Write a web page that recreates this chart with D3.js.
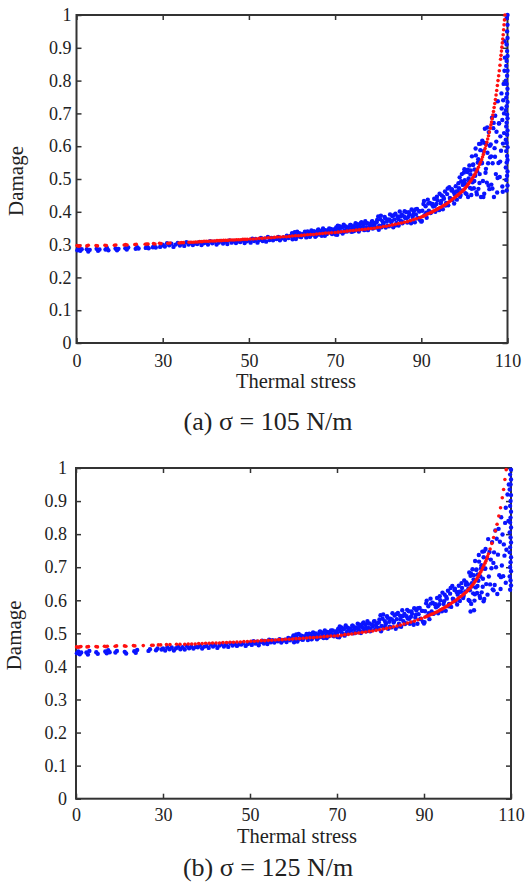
<!DOCTYPE html>
<html><head><meta charset="utf-8">
<script src="https://cdn.jsdelivr.net/npm/d3@7/dist/d3.min.js"></script>
<style>
body{margin:0;background:#fff}
svg{display:block}
text{font-family:"Liberation Serif","Times New Roman",serif;fill:#222}
</style>
</head><body>
<svg id="c" width="526" height="886"></svg>
<script>
const xTicks=[0,30,50,70,90,110];
const yTicks=[0,0.1,0.2,0.3,0.4,0.5,0.6,0.7,0.8,0.9,1];
const xLabel="Thermal stress";
const yLabel="Damage";
const captions=["(a) σ = 105 N/m","(b) σ = 125 N/m"];

const redA=[[0.2,0.297],[0.7,0.295],[1.2,0.296],[3.6,0.296],[4.1,0.298],[6.8,0.297],[7.3,0.296],[9.9,0.298],[10.4,0.297],[13.2,0.298],[13.7,0.299],[16.6,0.299],[17.1,0.3],[17.6,0.299],[20.3,0.3],[20.8,0.301],[23.9,0.301],[24.4,0.302],[24.9,0.302],[26.8,0.303],[27.3,0.302],[28.9,0.304],[29.4,0.303],
[31.2,0.304],[31.7,0.305],[33.8,0.305],[34.3,0.306],[34.8,0.306],[36.1,0.307],[36.6,0.307],[37.1,0.307],[37.6,0.308],[38.1,0.308],[38.6,0.309],[39.1,0.309],[39.6,0.31],[40.1,0.31],[40.6,0.31],[41.1,0.311],[41.6,0.311],[42.1,0.311],[42.6,0.312],[43.1,0.312],[43.6,0.312],[44.1,0.313],[44.6,0.313],[45.1,0.313],[45.6,0.314],[46.1,0.314],[46.6,0.314],[47.1,0.315],[47.6,0.315],[48.1,0.315],[48.6,0.316],[49.1,0.316],[49.6,0.316],
[50.3,0.317],[51,0.317],[51.7,0.318],[52.4,0.319],[53.1,0.319],[53.8,0.32],[54.5,0.321],[55.2,0.321],[55.9,0.322],[56.6,0.323],[57.3,0.323],[58,0.324],[58.7,0.324],[59.4,0.325],
[60.1,0.326],[60.8,0.327],[61.5,0.327],[62.2,0.328],[62.9,0.329],[63.6,0.33],[64.3,0.331],[65,0.331],[65.7,0.332],[66.4,0.333],[67.1,0.334],[67.8,0.335],[68.5,0.335],[69.2,0.336],
[70,0.337],[70.7,0.338],[71.4,0.339],[72.1,0.34],[72.8,0.341],[73.5,0.342],[74.2,0.343],[74.9,0.344],[75.6,0.345],[76.3,0.346],[77,0.347],[77.7,0.348],[78.4,0.349],[79.1,0.35],[79.8,0.352],
[80.5,0.353],[81.2,0.355],[81.9,0.356],[82.6,0.358],[83.3,0.36],[84,0.362],[84.7,0.364],[85.4,0.366],[86.1,0.368],[86.8,0.37],[87.5,0.373],[88.2,0.376],[88.9,0.379],[89.6,0.382],
[90,0.384],[90.35,0.386],[90.7,0.388],[91.05,0.39],[91.4,0.393],[91.75,0.395],[92.1,0.397],[92.45,0.399],[92.8,0.402],[93.15,0.404],[93.5,0.407],[93.85,0.409],[94.2,0.412],[94.55,0.414],[94.9,0.417],[95.25,0.42],[95.6,0.422],[95.95,0.425],[96.3,0.429],[96.65,0.432],[97,0.436],[97.35,0.44],[97.7,0.443],[98.05,0.447],[98.4,0.45],[98.75,0.454],[99.1,0.458],[99.45,0.462],[99.75,0.466],
[100,0.469],[100.25,0.473],[100.5,0.477],[100.75,0.482],[101,0.486],[101.25,0.491],[101.5,0.495],[101.75,0.5],[102,0.505],[102.25,0.511],[102.5,0.516],[102.75,0.522],[103,0.529],[103.25,0.536],[103.5,0.544],[103.75,0.551],[104,0.559],[104.2,0.567],[104.4,0.575],[104.6,0.584],[104.8,0.593],[105,0.602],[105.2,0.612],[105.4,0.622],[105.6,0.632],[105.8,0.643],[106,0.655],[106.15,0.665],[106.3,0.674],[106.45,0.684],[106.6,0.695],[106.75,0.706],[106.9,0.718],[107.05,0.73],[107.2,0.742],[107.35,0.756],[107.5,0.77],[107.65,0.785],[107.8,0.8],[107.95,0.815],[108.1,0.83],[108.25,0.847],[108.4,0.865],[108.5,0.877],[108.6,0.89],[108.7,0.902],[108.8,0.915],[108.9,0.927],[109,0.94],[109.1,0.955],[109.2,0.97],[109.3,0.985],[109.4,1.0]];

const blueA=[[0.3,0.283],[0.8,0.289],[1.3,0.281],[1.8,0.286],[3.6,0.286],[4.1,0.279],[4.6,0.284],[7,0.287],[7.5,0.281],[8,0.285],[10.1,0.285],[10.6,0.29],[11.1,0.283],[13.6,0.288],[14.1,0.283],[14.6,0.287],[17,0.289],[17.5,0.285],[18,0.291],[20.6,0.287],[21.1,0.292],[21.6,0.288],[24.1,0.29],[24.6,0.294],[25.1,0.289],[26.6,0.292],[27.1,0.296],[27.6,0.291],[29.1,0.293],[29.6,0.297],
[30,0.3],[30.5,0.294],[31,0.304],[31.5,0.298],[32,0.303],[32.5,0.293],[33,0.3],[33.5,0.305],[34,0.297],[34.5,0.303],[35,0.296],[35.5,0.307],[36,0.3],[36.5,0.305],[37,0.299],[37.5,0.304],[38,0.302],[38.5,0.307],[39,0.299],[39.5,0.304],[40,0.306],[40.5,0.3],[41,0.31],[41.5,0.304],[42,0.309],[42.5,0.3],[43,0.306],[43.5,0.311],[44,0.303],[44.5,0.309],[45,0.302],[45.5,0.313],[46,0.306],[46.5,0.311],[47,0.305],[47.5,0.31],[48,0.308],[48.5,0.313],[49,0.305],[49.5,0.31],
[50,0.313],[50.4,0.306],[50.8,0.318],[51.2,0.311],[51.6,0.317],[52,0.306],[52.4,0.314],[52.8,0.32],[53.2,0.311],[53.6,0.318],[54,0.309],[54.4,0.323],[54.8,0.314],[55.2,0.32],[55.6,0.313],[56,0.319],[56.4,0.317],[56.8,0.323],[57.2,0.313],[57.6,0.319],[58,0.322],[58.4,0.315],[58.8,0.327],[59.2,0.32],[59.6,0.326],
[60,0.335],[60.3,0.321],[60.6,0.331],[60.9,0.317],[61.2,0.339],[61.5,0.325],[61.8,0.334],[62.1,0.323],[62.4,0.332],[62.7,0.329],[63,0.339],[63.3,0.322],[63.6,0.332],[63.9,0.336],[64.2,0.325],[64.5,0.343],[64.8,0.331],[65.1,0.341],[65.4,0.324],[65.7,0.336],[66,0.344],[66.3,0.331],[66.6,0.341],[66.9,0.327],[67.2,0.349],[67.5,0.335],[67.8,0.344],[68.1,0.332],[68.4,0.342],[68.7,0.339],[69,0.348],[69.3,0.332],[69.6,0.341],[69.9,0.345],
[60.125,0.316],[60.625,0.338],[61.125,0.325],[61.625,0.334],[62.125,0.323],[62.625,0.332],[63.125,0.33],[63.625,0.34],[64.125,0.324],[64.625,0.333],[65.125,0.338],[65.625,0.327],[66.125,0.346],[66.625,0.334],[67.125,0.344],[67.625,0.327],[68.125,0.34],[68.625,0.349],[69.125,0.335],[69.625,0.346],
[70,0.34],[70.25,0.352],[70.5,0.33],[70.75,0.346],[71,0.356],[71.25,0.339],[71.5,0.352],[71.75,0.334],[72,0.361],[72.25,0.343],[72.5,0.355],[72.75,0.34],[73,0.352],[73.25,0.348],[73.5,0.36],[73.75,0.339],[74,0.351],[74.25,0.356],[74.5,0.342],[74.75,0.365],[75,0.35],[75.25,0.362],[75.5,0.34],[75.75,0.356],[76,0.366],[76.25,0.349],[76.5,0.362],[76.75,0.344],[77,0.371],[77.25,0.353],[77.5,0.365],[77.75,0.35],[78,0.362],[78.25,0.358],[78.5,0.37],[78.75,0.349],[79,0.361],[79.25,0.366],[79.5,0.352],[79.75,0.375],
[70.125,0.331],[70.625,0.358],[71.125,0.341],[71.625,0.353],[72.125,0.339],[72.625,0.351],[73.125,0.348],[73.625,0.36],[74.125,0.34],[74.625,0.352],[75.125,0.357],[75.625,0.344],[76.125,0.368],[76.625,0.353],[77.125,0.366],[77.625,0.344],[78.125,0.361],[78.625,0.371],[79.125,0.354],[79.625,0.368],
[80,0.386],[80.25,0.358],[80.5,0.377],[80.75,0.353],[81,0.371],[81.25,0.366],[81.5,0.384],[81.75,0.352],[82,0.37],[82.25,0.377],[82.5,0.356],[82.75,0.392],[83,0.369],[83.25,0.387],[83.5,0.353],[83.75,0.377],[84,0.394],[84.25,0.366],[84.5,0.386],[84.75,0.358],[85,0.401],[85.25,0.373],[85.5,0.392],[85.75,0.368],[86,0.386],[86.25,0.381],[86.5,0.399],[86.75,0.367],[87,0.385],[87.25,0.392],[87.5,0.371],[87.75,0.407],[88,0.384],[88.25,0.402],[88.5,0.368],[88.75,0.392],[89,0.409],[89.25,0.381],[89.5,0.401],[89.75,0.374],
[80.125,0.345],[80.625,0.388],[81.125,0.361],[81.625,0.38],[82.125,0.357],[82.625,0.376],[83.125,0.371],[83.625,0.39],[84.125,0.359],[84.625,0.378],[85.125,0.386],[85.625,0.365],[86.125,0.402],[86.625,0.38],[87.125,0.399],[87.625,0.365],[88.125,0.391],[88.625,0.407],[89.125,0.38],[89.625,0.402],
[90,0.37],[90.25,0.403],[90.5,0.424],[90.75,0.39],[91,0.417],[91.25,0.382],[91.5,0.437],[91.75,0.403],[92,0.427],[92.25,0.398],[92.5,0.422],[92.75,0.416],[93,0.44],[93.25,0.4],[93.5,0.424],[93.75,0.435],[94,0.408],[94.25,0.455],[94.5,0.426],[94.75,0.45],[95,0.408],[95.25,0.44],[95.5,0.462],[95.75,0.427],[96,0.454],[96.25,0.42],[96.5,0.475],[96.75,0.44],[97,0.465],[97.25,0.436],[97.5,0.46],[97.75,0.453],[98,0.478],[98.25,0.437],[98.5,0.462],[98.75,0.472],[99,0.446],[99.25,0.493],[99.5,0.464],[99.75,0.488],
[90.125,0.372],[90.625,0.433],[91.125,0.397],[91.625,0.425],[92.125,0.396],[92.625,0.424],[93.125,0.418],[93.625,0.446],[94.125,0.405],[94.625,0.433],[95.125,0.445],[95.625,0.419],[96.125,0.471],[96.625,0.442],[97.125,0.469],[97.625,0.425],[98.125,0.462],[98.625,0.487],[99.125,0.451],[99.625,0.482],[99.4,0.515],[99.9,0.52],[98.9,0.505],[100,0.53],
[100.1,0.496],[100.25,0.457],[100.4,0.527],[100.55,0.481],[100.7,0.521],[100.85,0.445],[101,0.502],[101.15,0.541],[101.3,0.473],[101.45,0.526],[101.6,0.451],[101.75,0.569],[101.9,0.49],[102.05,0.544],[102.2,0.472],[102.35,0.529],[102.5,0.51],[102.65,0.572],[102.8,0.46],[102.95,0.524],[103.1,0.55],[103.25,0.47],[103.4,0.607],[103.55,0.515],[103.7,0.588],[103.85,0.445],[104,0.548],[104.15,0.617],[104.3,0.494],[104.45,0.585],[104.6,0.455],[104.75,0.653],[104.9,0.519],[105.05,0.607],[105.2,0.489],[105.35,0.58],[105.5,0.548],[105.65,0.643],[105.8,0.469],[105.95,0.566],[106.1,0.605],[106.25,0.483],[106.4,0.687],[106.55,0.548],[106.7,0.655],[106.85,0.445],[107,0.594],[107.15,0.693],[107.3,0.515],[107.45,0.644],[107.6,0.459],[107.75,0.737],[107.9,0.549],[108.05,0.67],[108.2,0.506],[108.35,0.63],[108.5,0.586],[108.65,0.715],[108.8,0.477],[108.95,0.608],
[100.2,0.485],[100.5,0.454],[100.8,0.528],[101.1,0.493],[101.4,0.514],[101.7,0.47],[102,0.543],[102.3,0.494],[102.6,0.593],[102.9,0.453],[103.2,0.56],[103.5,0.488],[103.8,0.608],[104.1,0.549],[104.4,0.445],[104.7,0.61],[105,0.531],[105.3,0.657],[105.6,0.48],[105.9,0.601],[106.2,0.569],[106.5,0.471],[106.8,0.671],[107.1,0.568],[107.4,0.614],[107.7,0.503],[108,0.669],[108.3,0.553],[108.6,0.761],[108.9,0.461],
[109.1,0.79],[109.3,0.83],[109.2,0.7],[109.4,0.87],[109.3,0.92],[109,0.74],[109.2,0.64],[108.8,0.68],
[109.8,0.465],[110,0.48],[109.7,0.497],[109.9,0.51],[110,0.523],[109.6,0.535],[109.8,0.55],[110,0.558],[109.9,0.57],[109.7,0.585],[110,0.597],[109.8,0.61],[109.6,0.62],[109.9,0.635],[110,0.648],[109.7,0.66],[109.8,0.672],[110,0.685],[109.9,0.697],[109.6,0.71],[109.8,0.722],[110,0.735],[109.7,0.748],[109.9,0.76],[110,0.775],[109.8,0.79],[109.6,0.8],[109.9,0.815],[110,0.83],[109.7,0.845],[109.8,0.86],[110,0.875],[109.9,0.89],[109.8,0.91],[110,0.93],[109.9,0.95],[110,0.97],[109.8,0.99],[110,1.0]];

const redB=[[0.2,0.459],[0.7,0.458],[1.2,0.459],[1.7,0.46],[3.8,0.459],[4.3,0.46],[6.9,0.46],[7.4,0.459],[9.8,0.461],[10.3,0.46],[10.8,0.461],[13.5,0.461],[14,0.462],[16.7,0.462],[17.2,0.461],[19.8,0.463],[20.3,0.462],[23.2,0.463],[26.1,0.464],[26.6,0.464],[28.4,0.465],[29.2,0.465],
[30.8,0.466],[31.6,0.466],[33.1,0.467],[33.9,0.467],[35,0.467],[35.8,0.468],[36.6,0.468],[37.4,0.468],[38.2,0.469],[39,0.469],[39.8,0.47],[40.6,0.47],[41.4,0.471],[42.2,0.471],[43,0.471],[43.8,0.472],[44.6,0.472],[45.4,0.473],[46.2,0.473],[47,0.474],[47.8,0.474],[48.6,0.475],[49.4,0.475],
[50.2,0.476],[51,0.476],[51.8,0.477],[52.6,0.478],[53.4,0.478],[54.2,0.479],[55,0.479],[55.8,0.48],[56.6,0.481],[57.4,0.481],[58.2,0.482],[59,0.482],[59.8,0.483],
[60.6,0.484],[61.4,0.484],[62.2,0.485],[63,0.486],[63.8,0.487],[64.6,0.487],[65.4,0.488],[66.2,0.489],[67,0.49],[67.8,0.491],[68.6,0.492],[69.4,0.492],
[70.2,0.493],[71,0.494],[71.8,0.496],[72.6,0.497],[73.4,0.498],[74.2,0.5],[75,0.501],[75.8,0.503],[76.6,0.504],[77.4,0.506],[78.2,0.507],[79,0.509],[79.8,0.511],
[80.6,0.513],[81.4,0.515],[82.2,0.517],[83,0.52],[83.8,0.522],[84.6,0.525],[85.4,0.528],[86.2,0.531],[87,0.534],[87.8,0.537],[88.6,0.541],[89.4,0.545],
[90.2,0.549],[90.6,0.551],[91,0.553],[91.4,0.556],[91.8,0.558],[92.2,0.56],[92.6,0.563],[93,0.565],[93.4,0.568],[93.8,0.571],[94.2,0.574],[94.6,0.577],[95,0.58],[95.4,0.583],[95.8,0.587],[96.2,0.59],[96.6,0.594],[97,0.597],[97.4,0.601],[97.8,0.605],[98.2,0.609],[98.6,0.613],[99,0.617],[99.35,0.621],[99.7,0.625],
[100,0.629],[100.3,0.633],[100.6,0.637],[100.9,0.642],[101.2,0.647],[101.5,0.652],[101.75,0.657],[102,0.662],[102.25,0.667],[102.5,0.673],[102.75,0.679],[103,0.685],[103.25,0.691],[103.5,0.698],[103.75,0.705],[104,0.712],[104.2,0.718],[104.4,0.725],[104.6,0.732],[104.8,0.74],[105.2,0.755],[105.6,0.772],[106,0.79],[106.4,0.81],[106.8,0.83],[107.2,0.855],[107.6,0.88],[108,0.91],[108.3,0.935],[108.6,0.965],[108.9,0.995]];

const blueB=[[0.3,0.44],[0.8,0.445],[1.3,0.437],[1.8,0.442],[3.6,0.442],[4.1,0.436],[4.6,0.447],[7,0.443],[7.5,0.438],[10.1,0.445],[10.6,0.44],[11.1,0.449],[11.6,0.443],[13.6,0.442],[14.1,0.447],[16.8,0.444],[17.3,0.439],[20.1,0.446],[20.6,0.441],[21.1,0.45],[25,0.447],[25.5,0.452],[27.6,0.449],[28.1,0.454],[29.5,0.451],
[30,0.454],[30.5,0.448],[31,0.458],[31.5,0.452],[32,0.457],[32.5,0.448],[33,0.455],[33.5,0.46],[34,0.452],[34.5,0.458],[35,0.451],[35.5,0.462],[36,0.455],[36.5,0.46],[37,0.454],[37.5,0.459],[38,0.458],[38.5,0.463],[39,0.454],[39.5,0.46],[40,0.462],[40.5,0.456],[41,0.466],[41.5,0.46],[42,0.465],[42.5,0.456],[43,0.463],[43.5,0.468],[44,0.46],[44.5,0.466],[45,0.459],[45.5,0.47],[46,0.463],[46.5,0.468],[47,0.462],[47.5,0.467],[48,0.466],[48.5,0.471],[49,0.462],[49.5,0.468],
[50,0.471],[50.4,0.465],[50.8,0.476],[51.2,0.469],[51.6,0.475],[52,0.464],[52.4,0.473],[52.8,0.478],[53.2,0.469],[53.6,0.476],[54,0.468],[54.4,0.481],[54.8,0.473],[55.2,0.479],[55.6,0.472],[56,0.478],[56.4,0.476],[56.8,0.482],[57.2,0.472],[57.6,0.478],[58,0.481],[58.4,0.474],[58.8,0.486],[59.2,0.479],[59.6,0.485],
[60,0.494],[60.3,0.479],[60.6,0.49],[60.9,0.475],[61.2,0.498],[61.5,0.483],[61.8,0.493],[62.1,0.481],[62.4,0.491],[62.7,0.488],[63,0.498],[63.3,0.48],[63.6,0.491],[63.9,0.495],[64.2,0.483],[64.5,0.503],[64.8,0.49],[65.1,0.5],[65.4,0.482],[65.7,0.496],[66,0.504],[66.3,0.489],[66.6,0.501],[66.9,0.486],[67.2,0.509],[67.5,0.494],[67.8,0.504],[68.1,0.491],[68.4,0.502],[68.7,0.498],[69,0.509],[69.3,0.491],[69.6,0.501],[69.9,0.505],
[60.125,0.473],[60.625,0.497],[61.125,0.482],[61.625,0.493],[62.125,0.481],[62.625,0.491],[63.125,0.488],[63.625,0.499],[64.125,0.482],[64.625,0.492],[65.125,0.497],[65.625,0.486],[66.125,0.506],[66.625,0.494],[67.125,0.504],[67.625,0.486],[68.125,0.5],[68.625,0.509],[69.125,0.494],[69.625,0.506],
[70,0.5],[70.25,0.513],[70.5,0.488],[70.75,0.507],[71,0.518],[71.25,0.498],[71.5,0.513],[71.75,0.493],[72,0.524],[72.25,0.504],[72.5,0.517],[72.75,0.5],[73,0.514],[73.25,0.51],[73.5,0.523],[73.75,0.5],[74,0.513],[74.25,0.518],[74.5,0.503],[74.75,0.529],[75,0.512],[75.25,0.526],[75.5,0.501],[75.75,0.519],[76,0.531],[76.25,0.511],[76.5,0.526],[76.75,0.506],[77,0.537],[77.25,0.516],[77.5,0.53],[77.75,0.513],[78,0.526],[78.25,0.522],[78.5,0.536],[78.75,0.512],[79,0.526],[79.25,0.531],[79.5,0.516],[79.75,0.542],
[70.125,0.489],[70.625,0.521],[71.125,0.501],[71.625,0.515],[72.125,0.499],[72.625,0.513],[73.125,0.509],[73.625,0.523],[74.125,0.501],[74.625,0.515],[75.125,0.521],[75.625,0.506],[76.125,0.533],[76.625,0.516],[77.125,0.53],[77.625,0.506],[78.125,0.525],[78.625,0.537],[79.125,0.518],[79.625,0.533],
[80,0.555],[80.25,0.522],[80.5,0.544],[80.75,0.516],[81,0.537],[81.25,0.53],[81.5,0.552],[81.75,0.514],[82,0.535],[82.25,0.544],[82.5,0.518],[82.75,0.561],[83,0.533],[83.25,0.554],[83.5,0.514],[83.75,0.543],[84,0.562],[84.25,0.529],[84.5,0.553],[84.75,0.52],[85,0.57],[85.25,0.537],[85.5,0.559],[85.75,0.531],[86,0.552],[86.25,0.545],[86.5,0.567],[86.75,0.529],[87,0.55],[87.25,0.559],[87.5,0.533],[87.75,0.576],[88,0.548],[88.25,0.569],[88.5,0.529],[88.75,0.558],[89,0.577],[89.25,0.544],[89.5,0.568],[89.75,0.535],
[80.125,0.506],[80.625,0.557],[81.125,0.525],[81.625,0.547],[82.125,0.52],[82.625,0.542],[83.125,0.536],[83.625,0.558],[84.125,0.521],[84.625,0.543],[85.125,0.552],[85.625,0.528],[86.125,0.571],[86.625,0.544],[87.125,0.566],[87.625,0.526],[88.125,0.556],[88.625,0.576],[89.125,0.543],[89.625,0.568],
[90,0.53],[90.25,0.567],[90.5,0.591],[90.75,0.552],[91,0.582],[91.25,0.543],[91.5,0.605],[91.75,0.566],[92,0.593],[92.25,0.56],[92.5,0.587],[92.75,0.579],[93,0.607],[93.25,0.561],[93.5,0.588],[93.75,0.6],[94,0.57],[94.25,0.623],[94.5,0.589],[94.75,0.617],[95,0.568],[95.25,0.605],[95.5,0.629],[95.75,0.589],[96,0.62],[96.25,0.58],[96.5,0.643],[96.75,0.603],[97,0.631],[97.25,0.597],[97.5,0.625],[97.75,0.617],[98,0.644],[98.25,0.598],[98.5,0.626],[98.75,0.637],[99,0.607],[99.25,0.66],[99.5,0.627],[99.75,0.654],
[90.125,0.534],[90.625,0.599],[91.125,0.561],[91.625,0.59],[92.125,0.559],[92.625,0.588],[93.125,0.582],[93.625,0.612],[94.125,0.567],[94.625,0.597],[95.125,0.61],[95.625,0.582],[96.125,0.637],[96.625,0.605],[97.125,0.635],[97.625,0.587],[98.125,0.626],[98.625,0.652],[99.125,0.614],[99.625,0.647],
[100.1,0.648],[100.25,0.601],[100.4,0.684],[100.55,0.63],[100.7,0.674],[100.85,0.589],[101,0.652],[101.15,0.694],[101.3,0.621],[101.45,0.676],[101.6,0.599],[101.75,0.719],[101.9,0.639],[102.05,0.693],[102.2,0.622],[102.35,0.678],[102.5,0.659],[102.65,0.717],[102.8,0.613],[102.95,0.672],[103.1,0.697],[103.25,0.624],[103.4,0.747],[103.55,0.665],[103.7,0.73],[103.85,0.604],[104,0.695],[104.15,0.755],[104.3,0.649],[104.45,0.727],[104.6,0.617],[104.75,0.785],[104.9,0.672],[105.05,0.746],[105.2,0.648],[105.35,0.723],[105.5,0.697],[105.65,0.776],[105.8,0.633],[105.95,0.713],[106.1,0.745],[106.25,0.646],[106.4,0.811],[106.55,0.7],[106.7,0.786],[106.85,0.619],[107,0.738],[107.15,0.816],[107.3,0.676],[107.45,0.777],[107.6,0.634],[107.75,0.851],[107.9,0.705],[108.05,0.799],[108.2,0.673],[108.35,0.769],[108.5,0.735],[108.65,0.834],[108.8,0.653],[108.95,0.753],
[100.2,0.635],[100.5,0.598],[100.8,0.681],[101.1,0.642],[101.4,0.663],[101.7,0.618],[102,0.692],[102.3,0.643],[102.6,0.737],[102.9,0.607],[103.2,0.706],[103.5,0.641],[103.8,0.748],[104.1,0.696],
[100.7,0.566],[103.7,0.597],[101.5,0.57],[106,0.63],[107.7,0.67],[109.2,0.92],[109.5,0.95],[108.8,0.88],[109.4,0.84],
[109.8,0.632],[110,0.645],[109.9,0.66],[109.7,0.672],[110,0.688],[109.8,0.7],[109.9,0.715],[110,0.73],[109.7,0.745],[109.8,0.76],[110,0.775],[109.9,0.79],[109.7,0.805],[110,0.82],[109.8,0.835],[109.9,0.85],[110,0.868],[109.8,0.885],[109.9,0.9],[110,0.918],[109.7,0.935],[109.9,0.95],[110,0.965],[109.8,0.98],[110,0.995]];

const panels=[
  {red:redA,blue:blueA,cap:captions[0],l:76.5,r:507.5,t:15,b:343,padX:11.5,padY:5,xlY:387.5,xlX:296,ylX:22.5,capY:430},
  {red:redB,blue:blueB,cap:captions[1],l:76,r:511,t:468,b:798.7,padX:9.5,padY:9,xlY:843,xlX:297,ylX:21,capY:876}
];

const svg=d3.select("#c");
const fmt=d=>d===0?"0":d===1?"1":d3.format(".1f")(d);

panels.forEach(p=>{
  const g=svg.append("g");
  const step=(p.r-p.l)/(xTicks.length-1);
  const x=d3.scaleLinear().domain(xTicks).range(xTicks.map((d,i)=>p.l+i*step));
  const y=d3.scaleLinear().domain([0,1]).range([p.b,p.t]);

  const style=sel=>{
    sel.select(".domain").remove();
    sel.selectAll(".tick line").attr("stroke","#333").attr("stroke-width",1.5);
    sel.selectAll("text").attr("font-family","'Liberation Serif','Times New Roman',serif").attr("font-size",18).attr("fill","#222");
  };
  g.append("g").attr("transform",`translate(0,${p.b})`)
    .call(d3.axisBottom(x).tickValues(xTicks).tickSize(-5).tickSizeOuter(0).tickPadding(p.padX)).call(style);
  g.append("g").attr("transform",`translate(0,${p.t})`)
    .call(d3.axisTop(x).tickValues(xTicks).tickSize(-5).tickSizeOuter(0).tickFormat("")).call(style);
  g.append("g").attr("transform",`translate(${p.l},0)`)
    .call(d3.axisLeft(y).tickValues(yTicks).tickSize(-5).tickSizeOuter(0).tickPadding(p.padY).tickFormat(fmt)).call(style);
  g.append("g").attr("transform",`translate(${p.r},0)`)
    .call(d3.axisRight(y).tickValues(yTicks).tickSize(-5).tickSizeOuter(0).tickFormat("")).call(style);

  g.append("rect").attr("x",p.l).attr("y",p.t).attr("width",p.r-p.l).attr("height",p.b-p.t)
    .attr("fill","none").attr("stroke","#333").attr("stroke-width",2);

  g.append("g").selectAll("circle").data(p.blue).join("circle")
    .attr("cx",d=>x(d[0])).attr("cy",d=>y(d[1])).attr("r",2.2).attr("fill","#0a14ff");
  g.append("g").selectAll("circle").data(p.red).join("circle")
    .attr("cx",d=>x(d[0])).attr("cy",d=>y(d[1])).attr("r",1.8).attr("fill","#ff1010");

  g.append("text").attr("x",p.xlX).attr("y",p.xlY).attr("text-anchor","middle").attr("font-size",20.5).text(xLabel);
  g.append("text").attr("transform",`translate(${p.ylX},${(p.t+p.b)/2+2}) rotate(-90)`).attr("text-anchor","middle").attr("font-size",21).text(yLabel);
  g.append("text").attr("x",268).attr("y",p.capY).attr("text-anchor","middle").attr("font-size",26).text(p.cap);
});
</script>
</body></html>
